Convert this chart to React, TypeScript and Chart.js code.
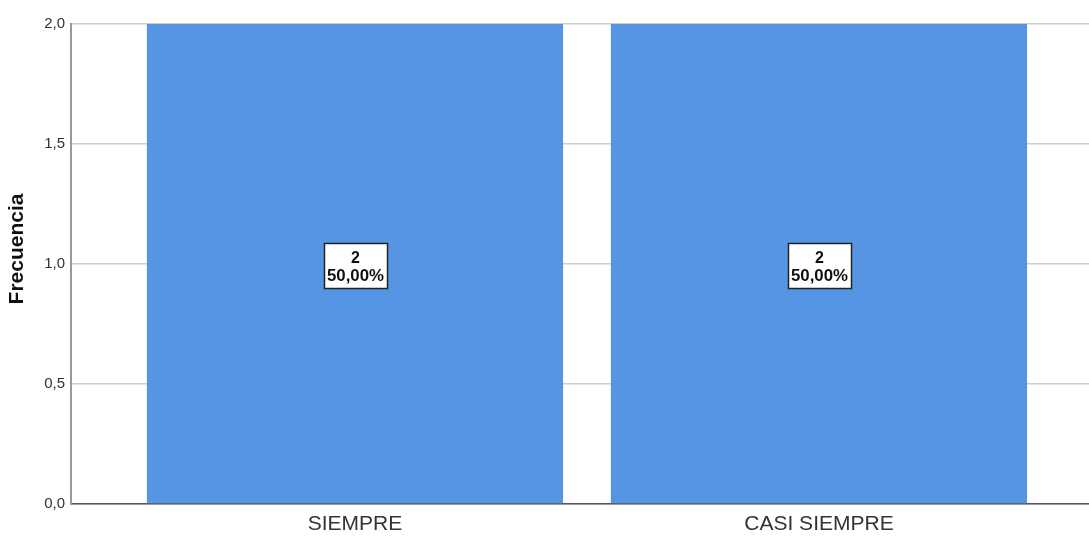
import React, { useEffect, useRef } from "react";
import { Chart, registerables } from "chart.js";

Chart.register(...registerables);

const categories = ["SIEMPRE", "CASI SIEMPRE"];
const counts = [2, 2];
const percents = ["50,00%", "50,00%"];
const yTicks = [0, 0.5, 1, 1.5, 2];

const FONT = "'Liberation Sans', Arial, sans-serif";

const labelPlugin = {
  id: "labelPlugin",
  afterDatasetsDraw(chart: any) {
    const ctx = chart.ctx;
    const meta = chart.getDatasetMeta(0);
    const yScale = chart.scales.y;
    ctx.save();
    meta.data.forEach((bar: any, i: number) => {
      const cx = bar.x + 0.5;
      const cy = yScale.getPixelForValue(counts[i] / 2) + 1.5;
      const w = 63;
      const h = 45;
      const lx = Math.round(cx - w / 2) + 0.5;
      const ly = Math.round(cy - h / 2) + 0.5;
      ctx.fillStyle = "#ffffff";
      ctx.fillRect(lx, ly, w, h);
      ctx.strokeStyle = "#222222";
      ctx.lineWidth = 1.5;
      ctx.strokeRect(lx, ly, w, h);
      ctx.fillStyle = "#111111";
      ctx.font = `bold 16px ${FONT}`;
      ctx.textAlign = "center";
      ctx.textBaseline = "alphabetic";
      ctx.fillText(String(counts[i]), cx, cy - 2.5);
      ctx.save();
      ctx.translate(cx, cy + 15);
      ctx.scale(1.05, 1);
      ctx.fillText(percents[i], 0, 0);
      ctx.restore();
    });
    const area = chart.chartArea;
    ctx.translate(23, (area.top + area.bottom) / 2 - 15);
    ctx.rotate(-Math.PI / 2);
    ctx.font = `bold 21px ${FONT}`;
    ctx.fillStyle = "#111111";
    ctx.textAlign = "center";
    ctx.textBaseline = "alphabetic";
    ctx.fillText("Frecuencia", 0, 0);
    ctx.restore();
  },
};

export default function App() {
  const ref = useRef<HTMLCanvasElement>(null);
  useEffect(() => {
    if (!ref.current) return;
    const chart = new Chart(ref.current, {
      type: "bar",
      data: {
        datasets: [
          {
            data: counts.map((v, i) => ({ x: i + 1, y: v })),
            backgroundColor: "#5595e4",
            borderWidth: 0,
            categoryPercentage: 1,
            barPercentage: 0.897,
          },
        ],
      },
      options: {
        animation: false,
        responsive: false,
        maintainAspectRatio: false,
        layout: { padding: { top: 24, left: 0, right: 0, bottom: 0 } },
        plugins: { legend: { display: false }, tooltip: { enabled: false } },
        scales: {
          x: {
            type: "linear",
            offset: false,
            min: 0.388,
            max: 2.582,
            afterBuildTicks: (scale: any) => {
              scale.ticks = categories.map((_, i) => ({ value: i + 1 }));
            },
            afterFit: (scale: any) => {
              scale.height = 32;
            },
            grid: { display: false, drawTicks: false },
            border: { display: true, color: "#555555", width: 1.5 },
            ticks: {
              padding: 8,
              color: "#333333",
              font: { family: FONT, size: 21 },
              callback: (v: any) => categories[Number(v) - 1] ?? "",
            },
          },
          y: {
            min: 0,
            max: 2,
            afterBuildTicks: (scale: any) => {
              scale.ticks = yTicks.map((v) => ({ value: v }));
            },
            afterFit: (scale: any) => {
              scale.width = 71;
            },
            grid: { color: "#cccccc", lineWidth: 1.5, drawTicks: false },
            border: { display: true, color: "#999999", width: 2 },
            ticks: {
              padding: 6,
              color: "#333333",
              font: { family: FONT, size: 15 },
              callback: (v: any) => Number(v).toFixed(1).replace(".", ","),
            },
          },
        },
      },
      plugins: [labelPlugin],
    } as any);
    return () => chart.destroy();
  }, []);
  return (
    <div style={{ position: "absolute", left: 0, top: 0, width: 1089, height: 536, background: "#fff" }}>
      <canvas ref={ref} width={1089} height={536} style={{ width: 1089, height: 536 }} />
    </div>
  );
}
